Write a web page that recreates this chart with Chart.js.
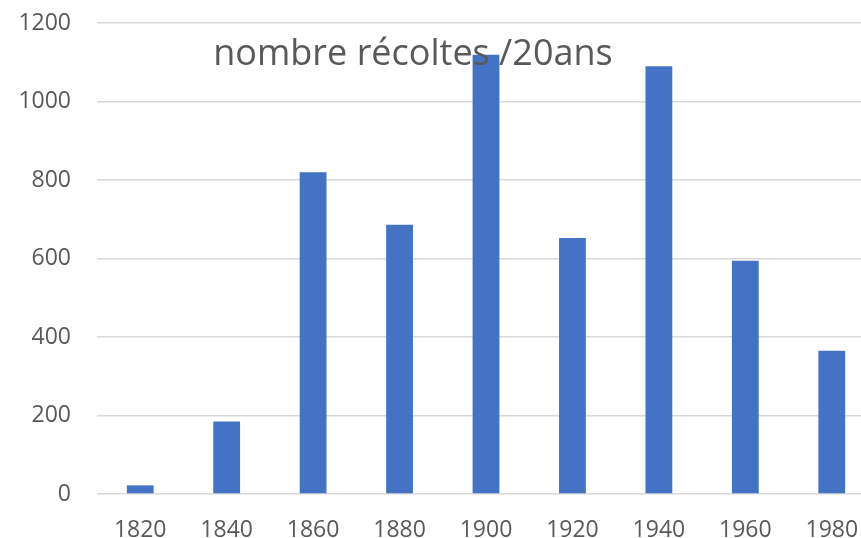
<!DOCTYPE html>
<html>
<head>
<meta charset="utf-8">
<script src="https://cdn.jsdelivr.net/npm/chart.js@4"></script>
<style>
  html, body { margin: 0; padding: 0; background: #fff; overflow: hidden; }
  #wrap { width: 880px; height: 538px; }
</style>
</head>
<body>
<div id="wrap"><canvas id="recoltesChart" width="880" height="538"></canvas></div>
<script>
    var years = ['1820', '1840', '1860', '1880', '1900', '1920', '1940', '1960', '1980'];
    var recoltes = [22, 185, 820, 686, 1119, 652, 1090, 594, 365];
    var titleText = 'nombre récoltes /20ans';

    // title sits over the plot, like the original Excel chart
    var overlayTitle = {
        id: 'overlayTitle',
        afterDraw: function (chart) {
            var c = chart.ctx;
            c.save();
            c.font = '36px "Open Sans"';
            c.fillStyle = '#595959';
            c.textAlign = 'center';
            c.textBaseline = 'alphabetic';
            c.fillText(titleText, 413, 65);
            c.restore();
        }
    };

    var ctx = document.getElementById('recoltesChart').getContext('2d');
    var recoltesChart = new Chart(ctx, {
        type: 'bar',
        data: {
            labels: years,
            datasets: [{
                label: titleText,
                data: recoltes,
                backgroundColor: '#4472C4',
                borderWidth: 0,
                barPercentage: 0.62,
                categoryPercentage: 0.5
            }]
        },
        options: {
            responsive: false,
            animation: false,
            layout: { padding: { top: 23, right: 5, bottom: 0, left: 0 } },
            plugins: {
                legend: { display: false },
                title: { display: false },
                tooltip: { enabled: false }
            },
            scales: {
                x: {
                    grid: { display: false },
                    border: { display: false },
                    ticks: {
                        color: '#595959',
                        font: { family: 'Open Sans', size: 23 },
                        padding: 15,
                        maxRotation: 0
                    },
                    afterFit: function (axis) {
                        axis.height = 44;
                        axis.paddingLeft = 0;
                        axis.paddingRight = 0;
                    }
                },
                y: {
                    min: 0,
                    max: 1200,
                    ticks: {
                        stepSize: 200,
                        color: '#595959',
                        font: { family: 'Open Sans', size: 23 },
                        padding: 26,
                        callback: function (v) { return String(v); }
                    },
                    grid: { color: '#d9d9d9', lineWidth: 1.5, drawTicks: false },
                    border: { display: false },
                    afterFit: function (axis) {
                        axis.width = 97;
                        axis.paddingTop = 0;
                        axis.paddingBottom = 0;
                    }
                }
            }
        },
        plugins: [overlayTitle]
    });
</script>
</body>
</html>
